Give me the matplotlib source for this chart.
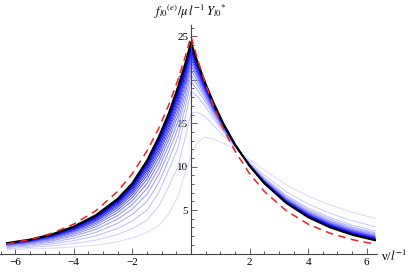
import matplotlib
matplotlib.use("Agg")
import matplotlib.pyplot as plt
from matplotlib.colors import LinearSegmentedColormap
from matplotlib.ticker import MultipleLocator, FixedLocator

plt.rcParams['font.family'] = ['Liberation Serif', 'DejaVu Serif']
plt.rcParams['mathtext.fontset'] = 'stix'

# sample positions (nu / l^-1)
nu = [-6.28, -5.5, -4.75, -4, -3.25, -2.5, -2, -1.5, -1.1, -0.75, -0.45, -0.2, 0,
      0.2, 0.45, 0.75, 1.1, 1.5, 2, 2.5, 3.25, 4, 4.75, 5.5, 6.28]

# family of curves, lightest first
family = [
    [0.45, 0.52, 0.62, 0.75, 0.95, 1.35, 1.80, 2.45, 3.20, 4.60, 6.60, 9.20, 11.20, 12.70, 13.40, 13.20, 12.70, 12.00, 10.80, 9.60, 7.90, 6.60, 5.60, 4.75, 4.05],
    [0.58, 0.70, 0.89, 1.15, 1.54, 2.19, 2.87, 3.85, 5.46, 7.77, 10.01, 13.30, 16.13, 16.29, 15.86, 14.81, 13.56, 12.21, 10.53, 9.03, 7.12, 5.69, 4.63, 3.78, 3.10],
    [0.68, 0.86, 1.11, 1.48, 2.02, 2.89, 3.75, 5.01, 7.03, 9.70, 12.10, 15.58, 18.68, 18.15, 17.13, 15.64, 14.00, 12.32, 10.39, 8.74, 6.71, 5.22, 4.12, 3.27, 2.61],
    [0.77, 0.98, 1.30, 1.76, 2.43, 3.48, 4.51, 6.00, 8.16, 10.89, 13.38, 16.74, 19.77, 18.95, 17.68, 15.99, 14.19, 12.37, 10.33, 8.61, 6.54, 5.02, 3.91, 3.06, 2.40],
    [0.85, 1.09, 1.46, 2.00, 2.78, 3.97, 5.14, 6.82, 9.09, 11.82, 14.38, 17.62, 20.55, 19.52, 18.07, 16.25, 14.33, 12.40, 10.29, 8.52, 6.42, 4.87, 3.75, 2.90, 2.25],
    [0.91, 1.18, 1.58, 2.18, 3.06, 4.37, 5.64, 7.48, 9.80, 12.55, 15.16, 18.30, 21.14, 19.95, 18.36, 16.44, 14.43, 12.43, 10.25, 8.45, 6.32, 4.76, 3.63, 2.78, 2.14],
    [0.96, 1.25, 1.69, 2.35, 3.30, 4.72, 6.08, 8.06, 10.44, 13.17, 15.84, 18.88, 21.64, 20.31, 18.61, 16.60, 14.52, 12.45, 10.23, 8.40, 6.24, 4.67, 3.54, 2.69, 2.04],
    [1.01, 1.32, 1.79, 2.49, 3.50, 5.01, 6.46, 8.56, 10.97, 13.69, 16.40, 19.36, 22.03, 20.60, 18.81, 16.73, 14.59, 12.46, 10.21, 8.35, 6.18, 4.60, 3.46, 2.61, 1.97],
    [1.04, 1.37, 1.87, 2.61, 3.68, 5.26, 6.78, 8.97, 11.43, 14.16, 16.90, 19.80, 22.43, 20.88, 19.01, 16.86, 14.65, 12.48, 10.18, 8.31, 6.12, 4.53, 3.38, 2.53, 1.89],
    [1.07, 1.42, 1.93, 2.70, 3.81, 5.46, 7.03, 9.30, 11.79, 14.52, 17.29, 20.14, 22.73, 21.10, 19.16, 16.96, 14.71, 12.49, 10.17, 8.27, 6.07, 4.47, 3.32, 2.47, 1.83],
    [1.10, 1.45, 1.99, 2.78, 3.93, 5.63, 7.25, 9.59, 12.12, 14.85, 17.65, 20.45, 23.02, 21.31, 19.30, 17.05, 14.76, 12.51, 10.15, 8.24, 6.02, 4.42, 3.26, 2.41, 1.78],
    [1.12, 1.49, 2.03, 2.85, 4.04, 5.78, 7.44, 9.83, 12.41, 15.16, 17.98, 20.77, 23.32, 21.53, 19.45, 17.15, 14.81, 12.52, 10.13, 8.20, 5.98, 4.36, 3.20, 2.35, 1.72],
    [1.14, 1.51, 2.07, 2.91, 4.12, 5.90, 7.60, 10.04, 12.64, 15.39, 18.23, 20.98, 23.51, 21.68, 19.55, 17.21, 14.84, 12.53, 10.12, 8.18, 5.95, 4.33, 3.17, 2.32, 1.68],
    [1.16, 1.54, 2.11, 2.96, 4.19, 6.00, 7.72, 10.21, 12.83, 15.60, 18.45, 21.20, 23.71, 21.82, 19.65, 17.28, 14.88, 12.54, 10.11, 8.16, 5.91, 4.29, 3.13, 2.28, 1.64],
    [1.17, 1.55, 2.13, 3.00, 4.25, 6.08, 7.82, 10.34, 12.99, 15.77, 18.64, 21.38, 23.91, 21.96, 19.74, 17.34, 14.91, 12.54, 10.10, 8.14, 5.88, 4.25, 3.09, 2.24, 1.61],
    [1.18, 1.57, 2.15, 3.03, 4.30, 6.15, 7.91, 10.45, 13.11, 15.90, 18.78, 21.50, 24.00, 22.03, 19.79, 17.37, 14.93, 12.55, 10.10, 8.12, 5.87, 4.24, 3.07, 2.22, 1.59],
    [1.19, 1.58, 2.17, 3.06, 4.34, 6.21, 7.99, 10.55, 13.24, 16.04, 18.93, 21.65, 24.16, 22.15, 19.87, 17.42, 14.96, 12.55, 10.09, 8.11, 5.84, 4.21, 3.04, 2.19, 1.56],
    [1.19, 1.59, 2.19, 3.08, 4.37, 6.26, 8.05, 10.63, 13.33, 16.13, 19.03, 21.74, 24.25, 22.21, 19.91, 17.45, 14.97, 12.56, 10.08, 8.10, 5.83, 4.19, 3.02, 2.17, 1.54],
]
limit_curve = [1.20, 1.60, 2.20, 3.10, 4.40, 6.30, 8.10, 10.70, 13.40, 16.20, 19.10, 21.80, 24.30,
               22.25, 19.94, 17.47, 14.98, 12.56, 10.08, 8.09, 5.82, 4.18, 3.01, 2.16, 1.53]
reference = [1.08, 1.60, 2.33, 3.38, 4.92, 7.16, 9.20, 11.81, 14.42, 17.18, 19.96, 22.62, 25.00,
             22.62, 19.96, 17.18, 14.42, 11.81, 9.20, 7.16, 4.92, 3.38, 2.33, 1.60, 1.08]

xticks = [-6, -4, -2, 2, 4, 6]
yticks = [5, 10, 15, 20, 25]

fig = plt.figure(figsize=(4.15, 2.72), dpi=100)
ax = fig.add_axes([0.0, 0.068, 377 / 415, 0.84])

cmap = LinearSegmentedColormap.from_list(
    'fam', [(0, '#dadafa'), (0.3, '#8a8aff'), (0.6, '#1a1aff'), (0.85, '#0000cc'), (1, '#000070')])
n = len(family)
for i, row in enumerate(family):
    ax.plot(nu, row, color=cmap(i / (n - 1)), lw=0.7)
ax.plot(nu, limit_curve, color='black', lw=1.5)
ax.plot(nu, reference, color='#ee2222', lw=1.1, dashes=(5, 3.5))

ax.set_xlim(-6.52, 6.35)
ax.set_ylim(0, 26.3)

for s in ['top', 'right']:
    ax.spines[s].set_visible(False)
ax.spines['left'].set_position(('data', 0))
ax.spines['bottom'].set_position(('data', 0))
for s in ['left', 'bottom']:
    ax.spines[s].set_color('#444444')
    ax.spines[s].set_linewidth(0.8)

ax.xaxis.set_major_locator(FixedLocator(xticks))
ax.xaxis.set_minor_locator(MultipleLocator(0.5))
ax.yaxis.set_major_locator(FixedLocator(yticks))
ax.yaxis.set_minor_locator(MultipleLocator(1))
ax.set_xticklabels(['\u2212%d' % -t if t < 0 else '%d' % t for t in xticks])
ax.set_yticklabels(['%d' % t for t in yticks])
ax.tick_params(which='both', direction='in', colors='#444444', labelcolor='black',
               labelsize=8, width=0.6)
ax.tick_params(which='major', length=4, pad=2)
ax.tick_params(axis='x', which='major', pad=3)
ax.tick_params(which='minor', length=2)

fig.text(0.458, 0.955, r'$f_{l0}{}^{(e)}/\mu\, l^{-1}\, Y_{l0}{}^{*}$',
         ha='center', va='center', fontsize=9)
fig.text(381 / 415, 1 - 256 / 272, r'ν/$l^{-1}$', ha='left', va='center', fontsize=9)

fig.savefig('out.png', dpi=100)
